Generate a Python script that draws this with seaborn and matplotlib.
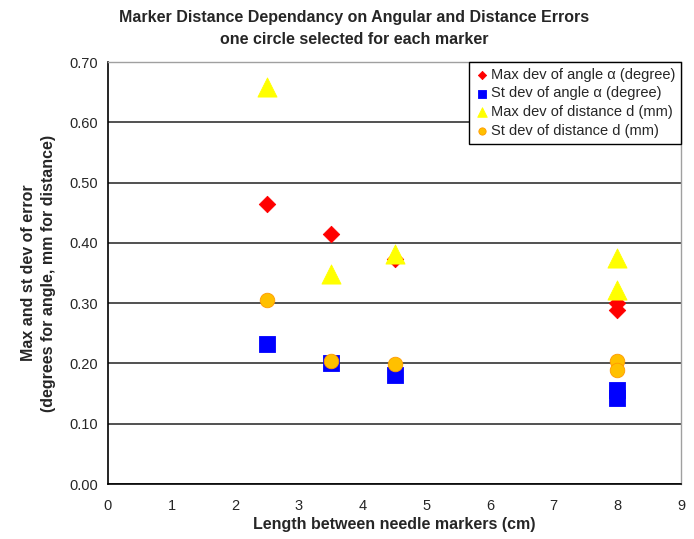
import pandas as pd
import seaborn as sns
import matplotlib.pyplot as plt

# ---------------- Data ---------------- #
length_cm = [2.5, 3.5, 4.5, 8, 8]
max_dev_angle = [0.465, 0.414, 0.374, 0.300, 0.288]
st_dev_angle = [0.232, 0.200, 0.181, 0.156, 0.143]
max_dev_dist = [0.658, 0.348, 0.381, 0.375, 0.322]
st_dev_dist = [0.306, 0.204, 0.199, 0.204, 0.189]

series_names = [
    "Max dev of angle \u03b1 (degree)",
    "St dev of angle \u03b1 (degree)",
    "Max dev of distance d (mm)",
    "St dev of distance d (mm)",
]
series_values = [max_dev_angle, st_dev_angle, max_dev_dist, st_dev_dist]

x_ticks = list(range(0, 10))
y_ticks = [0.0, 0.1, 0.2, 0.3, 0.4, 0.5, 0.6, 0.7]

# ---------------- Build long table ---------------- #
rows = []
for name, vals in zip(series_names, series_values):
    for x, v in zip(length_cm, vals):
        rows.append({"Length": x, "Value": v, "Series": name})
df = pd.DataFrame(rows)

# ---------------- Plot ---------------- #
sns.set_style("white")
plt.rcParams["font.family"] = ["Liberation Sans", "DejaVu Sans"]

fig, ax = plt.subplots(figsize=(6.94, 5.39), dpi=100)
fig.subplots_adjust(left=108 / 694, right=681 / 694, top=1 - 62 / 539, bottom=1 - 484 / 539)

styles = {
    series_names[0]: dict(color="#ff0000", marker="D", s=70),
    series_names[1]: dict(color="#0000ff", marker="s", s=120),
    series_names[2]: dict(color="#ffff00", marker="^", s=190),
    series_names[3]: dict(color="#ffc000", marker="o", s=110, edgecolor="#ff9900"),
}

for name in series_names:
    st = styles[name]
    sns.scatterplot(
        data=df[df["Series"] == name], x="Length", y="Value", ax=ax,
        color=st["color"], marker=st["marker"], s=st["s"],
        edgecolor=st.get("edgecolor", st["color"]), linewidth=0.6,
        label=name, zorder=3,
    )

ax.set_xlim(0, 9)
ax.set_ylim(0, 0.7)
ax.set_xticks(x_ticks)
ax.set_yticks(y_ticks)
ax.set_yticklabels([f"{t:.2f}" for t in y_ticks])
ax.yaxis.grid(True, color="#333333", linewidth=1.2)
ax.set_axisbelow(True)

for side in ["left", "bottom"]:
    ax.spines[side].set_color("black")
    ax.spines[side].set_linewidth(1.2)
for side in ["top", "right"]:
    ax.spines[side].set_color("#a0a0a0")
    ax.spines[side].set_linewidth(1.0)

ax.tick_params(axis="both", direction="inout", length=6, width=1, labelsize=10.5,
               color="black", pad=4)
ax.tick_params(axis="x", pad=8)

ax.set_xlabel("Length between needle markers (cm)", fontsize=11.5, fontweight="bold", labelpad=3)
ax.set_ylabel("Max and st dev of error\n(degrees for angle, mm for distance)",
              fontsize=11.5, fontweight="bold", labelpad=10, linespacing=1.4)
fig.suptitle("Marker Distance Dependancy on Angular and Distance Errors\none circle selected for each marker",
             fontsize=11.5, fontweight="bold", y=0.981, x=0.51, linespacing=1.55)

leg = ax.legend(loc="upper right", bbox_to_anchor=(1.0, 1.0), frameon=True, fancybox=False,
                fontsize=10.5, handletextpad=0.1, borderpad=0.4, labelspacing=0.32,
                handlelength=1.0, markerscale=0.5, borderaxespad=0, framealpha=1.0)
leg.get_frame().set_edgecolor("black")
leg.get_frame().set_linewidth(1.0)

fig.savefig("out.png", dpi=100)
